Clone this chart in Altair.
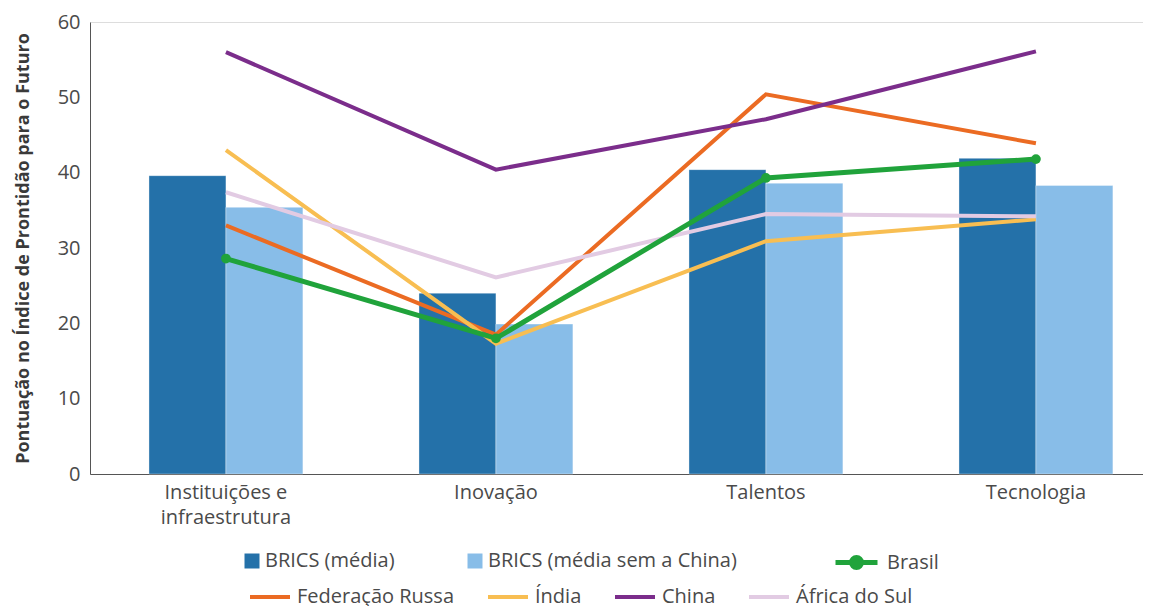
import altair as alt
import pandas as pd

categories = ["Instituições e infraestrutura", "Inovação", "Talentos", "Tecnologia"]
bar_series = ["BRICS (média)", "BRICS (média sem a China)"]
brics_media = [39.6, 24.0, 40.4, 41.9]
brics_sem_china = [35.4, 19.9, 38.6, 38.3]
brasil = [28.6, 18.0, 39.3, 41.8]
russia = [33.0, 18.5, 50.4, 43.9]
india = [43.0, 17.3, 30.9, 33.8]
china = [56.0, 40.4, 47.1, 56.1]
africa = [37.4, 26.1, 34.5, 34.2]
countries = ["Federação Russa", "Índia", "China", "África do Sul"]
country_values = [russia, india, china, africa]

bar_colors = ["#2471a9", "#88bde8"]
country_colors = ["#eb6b23", "#f8be52", "#7b2d8b", "#e2cbe3"]
brasil_color = "#20a33b"
font = "Open Sans"
text_color = "#4a4a4a"

bars_df = pd.DataFrame(
    [{"cat": c, "serie": s, "valor": v}
     for s, vals in zip(bar_series, [brics_media, brics_sem_china])
     for c, v in zip(categories, vals)]
)
lines_df = pd.DataFrame(
    [{"cat": c, "pais": p, "valor": v, "ordem": i}
     for i, (p, vals) in enumerate(zip(countries, country_values))
     for c, v in zip(categories, vals)]
)
brasil_df = pd.DataFrame({"cat": categories, "pais": ["Brasil"] * 4, "valor": brasil})

x_enc = alt.X(
    "cat:N",
    sort=categories,
    scale=alt.Scale(paddingInner=0.43, paddingOuter=0.165, align=0.662),
    axis=alt.Axis(
        title=None,
        labelAngle=0,
        ticks=False,
        labelPadding=8,
        labelFontSize=20,
        labelLineHeight=25,
        labelColor=text_color,
        labelFont=font,
        domainColor="#555555",
        labelExpr="datum.value == 'Instituições e infraestrutura' ? ['Instituições e', 'infraestrutura'] : datum.label",
    ),
)
y_scale = alt.Scale(domain=[0, 60])
y_enc = alt.Y(
    "valor:Q",
    scale=y_scale,
    axis=alt.Axis(
        title="Pontuação no Índice de Prontidão para o Futuro",
        titleFont=font,
        titleFontSize=18,
        titleFontWeight="bold",
        titleColor="#3a3a3a",
        titlePadding=25,
        values=[0, 10, 20, 30, 40, 50, 60],
        ticks=False,
        grid=False,
        labelPadding=10,
        labelFontSize=20,
        labelColor=text_color,
        labelFont=font,
        domainColor="#555555",
    ),
)

legend_common = dict(
    title=None,
    orient="none",
    direction="horizontal",
    labelFont=font,
    labelFontSize=20,
    labelColor=text_color,
    labelLimit=400,
    padding=0,
)

bars = alt.Chart(bars_df).mark_bar(stroke="#ffffff", strokeOpacity=0.35, strokeWidth=1).encode(
    x=x_enc,
    y=y_enc,
    xOffset=alt.XOffset("serie:N", sort=bar_series,
                        scale=alt.Scale(paddingInner=0, paddingOuter=0)),
    fill=alt.Fill(
        "serie:N",
        scale=alt.Scale(domain=bar_series, range=bar_colors),
        legend=alt.Legend(
            **legend_common,
            legendX=152, legendY=529,
            columns=2,
            columnPadding=70,
            symbolType="square",
            symbolSize=225,
            symbolStrokeWidth=0,
            labelOffset=3,
        ),
    ),
)

lines = alt.Chart(lines_df).mark_line(strokeWidth=4).encode(
    x=alt.X("cat:N", sort=categories),
    y=alt.Y("valor:Q", scale=y_scale),
    order=alt.Order("ordem:Q"),
    stroke=alt.Stroke(
        "pais:N",
        sort=countries,
        scale=alt.Scale(domain=countries, range=country_colors),
        legend=alt.Legend(
            **legend_common,
            legendX=158, legendY=553,
            columns=4,
            columnPadding=25,
            symbolType="stroke",
            symbolSize=1600,
            symbolStrokeWidth=4,
            labelOffset=5,
        ),
    ),
)

brasil_layer = alt.Chart(brasil_df).mark_line(
    strokeWidth=5,
    point=alt.OverlayMarkDef(filled=True, size=95, color=brasil_color),
).encode(
    x=alt.X("cat:N", sort=categories),
    y=alt.Y("valor:Q", scale=y_scale),
    color=alt.Color(
        "pais:N",
        scale=alt.Scale(domain=["Brasil"], range=[brasil_color]),
        legend=alt.Legend(
            **legend_common,
            legendX=743, legendY=517,
            symbolType="M-1,0L1,0M0.24,0A0.24,0.24,0,1,1,-0.24,0A0.24,0.24,0,1,1,0.24,0Z",
            symbolSize=1764,
            symbolStrokeWidth=5,
            symbolFillColor=brasil_color,
            labelOffset=7,
        ),
    ),
)

chart = (
    alt.layer(bars, lines, brasil_layer)
    .resolve_scale(fill="independent", stroke="independent", color="independent")
    .properties(
        width=1053,
        height=452,
        autosize=alt.AutoSizeParams(type="none"),
        padding={"left": 82, "top": 14, "right": 0, "bottom": 134},
    )
    .configure_view(stroke=None)
    .configure(font=font)
)

chart.save("out.html", embed_options={"renderer": "svg", "actions": False})
